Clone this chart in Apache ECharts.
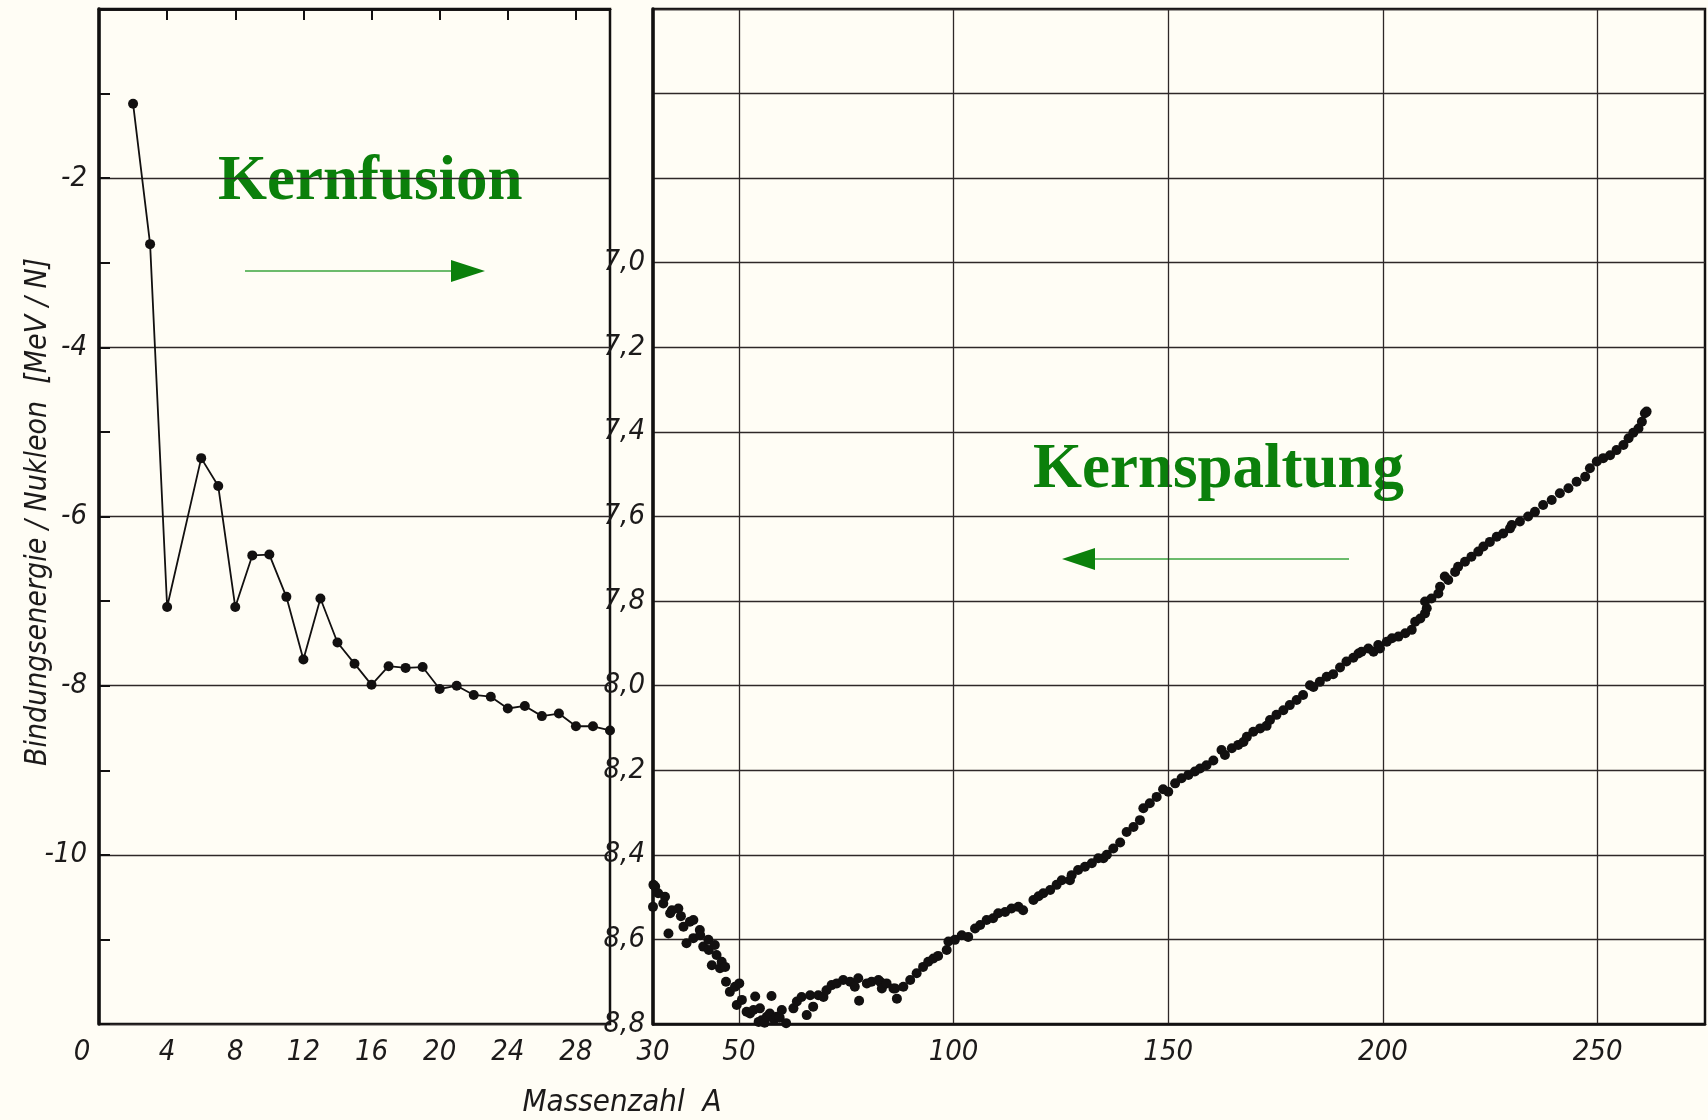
<!DOCTYPE html>
<html>
<head>
<meta charset="utf-8">
<title>Bindungsenergie je Nukleon</title>
<script src="https://cdn.jsdelivr.net/npm/echarts@6/dist/echarts.min.js"></script>
<style>
  html, body { margin: 0; padding: 0; background: #fffdf5; }
  #chart { width: 1708px; height: 1120px; }
</style>
</head>
<body>
<div id="chart"></div>
<script>
// Leichte Kerne (Kernfusion): Massenzahl A und Bindungsenergie je Nukleon, negativ aufgetragen
const leichteMassenzahl = [2, 3, 4, 6, 7, 8, 9, 10, 11, 12, 13, 14, 15, 16, 17, 18, 19, 20,
  21, 22, 23, 24, 25, 26, 27, 28, 29, 30];
const leichteEnergie = [-1.12, -2.78, -7.07, -5.31, -5.64, -7.07, -6.46, -6.45, -6.95, -7.69,
  -6.97, -7.49, -7.74, -7.99, -7.77, -7.79, -7.78, -8.04, -8.00, -8.11, -8.13, -8.27, -8.24,
  -8.36, -8.33, -8.48, -8.48, -8.53];

// Schwere Kerne (Kernspaltung): [Massenzahl A, Bindungsenergie je Nukleon in MeV]
const schwereKerne = [
  [30.0, 8.523], [30.1, 8.471], [30.5, 8.475], [31.2, 8.491], [32.4, 8.515], [32.8, 8.499],
  [33.6, 8.586], [34.0, 8.538], [34.4, 8.531], [35.9, 8.527], [36.5, 8.545], [37.1, 8.570],
  [37.8, 8.609], [38.6, 8.558], [39.4, 8.554], [39.4, 8.597], [40.9, 8.578], [41.0, 8.590],
  [41.7, 8.617], [42.9, 8.601], [43.0, 8.625], [43.7, 8.661], [44.4, 8.613], [44.8, 8.637],
  [45.6, 8.668], [46.0, 8.653], [46.8, 8.665], [47.0, 8.700], [47.9, 8.724], [49.1, 8.712],
  [49.5, 8.755], [50.1, 8.704], [50.7, 8.743], [51.8, 8.771], [52.6, 8.775], [53.4, 8.767],
  [53.8, 8.735], [54.6, 8.795], [54.9, 8.763], [55.3, 8.791], [56.0, 8.797], [56.5, 8.783],
  [57.2, 8.775], [57.6, 8.734], [58.2, 8.790], [58.8, 8.783], [59.5, 8.785], [60.0, 8.767],
  [61.0, 8.798], [62.7, 8.763], [63.5, 8.747], [64.6, 8.736], [65.8, 8.779], [66.6, 8.732],
  [67.3, 8.759], [68.5, 8.732], [69.7, 8.736], [70.4, 8.720], [71.6, 8.708], [72.8, 8.704],
  [74.3, 8.696], [75.9, 8.700], [77.0, 8.712], [77.8, 8.692], [78.0, 8.745], [79.8, 8.704],
  [80.9, 8.700], [82.5, 8.696], [82.9, 8.700], [83.3, 8.716], [84.4, 8.704], [86.0, 8.716],
  [86.4, 8.716], [86.8, 8.740], [88.3, 8.712], [89.9, 8.696], [91.4, 8.680], [92.9, 8.665],
  [94.1, 8.653], [95.3, 8.645], [96.4, 8.639], [98.4, 8.625], [98.8, 8.605], [100.3, 8.601],
  [101.9, 8.590], [103.4, 8.594], [105.0, 8.574], [106.2, 8.566], [107.7, 8.554], [109.2, 8.550],
  [110.4, 8.538], [112.0, 8.535], [113.5, 8.527], [115.1, 8.523], [116.2, 8.531], [118.6, 8.507],
  [119.8, 8.498], [120.9, 8.491], [122.5, 8.483], [124.0, 8.471], [125.2, 8.460], [127.1, 8.460],
  [127.5, 8.448], [129.0, 8.436], [130.6, 8.428], [132.2, 8.420], [133.7, 8.408], [134.9, 8.408],
  [135.7, 8.400], [137.2, 8.385], [138.8, 8.371], [140.3, 8.346], [141.9, 8.334], [143.4, 8.318],
  [144.2, 8.290], [145.7, 8.278], [147.3, 8.263], [148.8, 8.245], [150.0, 8.251], [151.6, 8.231],
  [153.1, 8.219], [154.7, 8.211], [156.2, 8.203], [157.4, 8.196], [158.9, 8.188], [160.5, 8.177],
  [162.4, 8.152], [163.2, 8.164], [164.8, 8.148], [166.3, 8.140], [167.5, 8.133], [168.3, 8.121],
  [169.8, 8.109], [171.4, 8.101], [172.9, 8.095], [173.7, 8.081], [175.2, 8.069], [176.8, 8.058],
  [178.3, 8.046], [179.9, 8.034], [181.4, 8.022], [183.0, 7.999], [183.8, 8.003], [185.3, 7.991],
  [186.9, 7.979], [188.4, 7.973], [190.0, 7.957], [191.5, 7.943], [193.1, 7.934], [194.3, 7.924],
  [195.0, 7.920], [196.6, 7.912], [197.8, 7.920], [198.9, 7.904], [199.3, 7.912], [200.9, 7.896],
  [202.1, 7.888], [203.6, 7.884], [205.2, 7.876], [206.7, 7.868], [207.5, 7.849], [208.7, 7.841],
  [209.8, 7.829], [210.2, 7.817], [209.8, 7.801], [211.3, 7.794], [212.9, 7.782], [213.3, 7.766],
  [214.4, 7.742], [215.2, 7.750], [216.8, 7.731], [217.5, 7.719], [219.1, 7.707], [220.6, 7.695],
  [222.2, 7.683], [223.4, 7.671], [224.9, 7.660], [226.5, 7.648], [228.0, 7.640], [229.6, 7.628],
  [230.0, 7.620], [231.9, 7.612], [233.8, 7.600], [235.4, 7.589], [237.3, 7.573], [239.3, 7.561],
  [241.2, 7.545], [243.2, 7.533], [245.1, 7.518], [247.1, 7.506], [248.2, 7.486], [249.8, 7.470],
  [251.3, 7.462], [252.9, 7.455], [254.4, 7.443], [256.0, 7.431], [257.2, 7.415], [258.3, 7.402],
  [259.5, 7.392], [260.3, 7.376], [261.0, 7.356], [261.4, 7.352]
];

// Achsenbeschriftungen
const linksXTicks = [0, 4, 8, 12, 16, 20, 24, 28];
const linksXObenTicks = [4, 8, 12, 16, 20, 24, 28];
const linksYTicks = [-10, -8, -6, -4, -2];
const rechtsXTicks = [30, 50, 100, 150, 200, 250];
const rechtsXGitter = [50, 100, 150, 200, 250];
const rechtsYTicks = [7.0, 7.2, 7.4, 7.6, 7.8, 8.0, 8.2, 8.4, 8.6, 8.8];

const labelFont = '"Liberation Sans Narrow", "DejaVu Sans Condensed", "Liberation Sans", sans-serif';
const ink = '#121010';
const gridColor = '#2e2828';
const green = '#0b800b';

const labelStyle = {
  fontFamily: labelFont,
  fontStyle: 'italic',
  fontSize: 29,
  color: '#1c1a1a'
};

const chart = echarts.init(document.getElementById('chart'), null, { renderer: 'canvas' });

chart.setOption({
  backgroundColor: '#fffdf5',
  animation: false,
  grid: [
    { left: 99, top: 9, width: 511, height: 1015, show: true, borderColor: ink, borderWidth: 2.5, backgroundColor: 'transparent' },
    { left: 653, top: 9, width: 1052, height: 1015, show: true, borderColor: ink, borderWidth: 2.5, backgroundColor: 'transparent' }
  ],
  xAxis: [
    {
      gridIndex: 0, type: 'value', min: 0, max: 30, interval: 4, position: 'bottom',
      axisLine: { show: true, lineStyle: { color: ink, width: 2.5 } },
      axisTick: { show: false },
      splitLine: { show: false },
      axisLabel: Object.assign({}, labelStyle, {
        customValues: linksXTicks,
        margin: 14,
        formatter: v => (v === 0 ? '{z|0}' : String(v)),
        rich: { z: Object.assign({}, labelStyle, { padding: [0, 34, 0, 0] }) }
      })
    },
    {
      gridIndex: 0, type: 'value', min: 0, max: 30, interval: 4, position: 'top',
      axisLine: { show: true, lineStyle: { color: ink, width: 2.5 } },
      axisTick: { show: true, inside: true, length: 11, customValues: linksXObenTicks, lineStyle: { color: ink, width: 2 } },
      splitLine: { show: false },
      axisLabel: { show: false }
    },
    {
      gridIndex: 1, type: 'value', min: 30, max: 275, position: 'bottom',
      axisLine: { show: true, lineStyle: { color: ink, width: 2.5 } },
      axisTick: { show: false, customValues: rechtsXGitter },
      splitLine: { show: true, lineStyle: { color: gridColor, width: 1.3 } },
      axisLabel: Object.assign({}, labelStyle, { customValues: rechtsXTicks, margin: 14 })
    }
  ],
  yAxis: [
    {
      gridIndex: 0, type: 'value', min: -12, max: 0, interval: 2,
      axisLine: { show: true, lineStyle: { color: ink, width: 3.5 } },
      axisTick: { show: true, inside: true, length: 11, lineStyle: { color: ink, width: 2 } },
      minorTick: { show: true, splitNumber: 2, length: 11, lineStyle: { color: ink, width: 2 } },
      splitLine: { show: true, lineStyle: { color: gridColor, width: 1.3 } },
      axisLabel: Object.assign({}, labelStyle, { customValues: linksYTicks, margin: 12 })
    },
    {
      gridIndex: 1, type: 'value', min: 6.4, max: 8.8, interval: 0.2, inverse: true,
      axisLine: { show: true, lineStyle: { color: ink, width: 3.5 } },
      axisTick: { show: false },
      splitLine: { show: true, lineStyle: { color: gridColor, width: 1.3 } },
      axisLabel: Object.assign({}, labelStyle, {
        customValues: rechtsYTicks,
        margin: 8,
        formatter: v => v.toFixed(1).replace('.', ',')
      })
    }
  ],
  series: [
    {
      name: 'Kernfusion',
      type: 'line',
      xAxisIndex: 0,
      yAxisIndex: 0,
      data: leichteMassenzahl.map((a, i) => [a, leichteEnergie[i]]),
      symbol: 'circle',
      symbolSize: 10,
      showAllSymbol: true,
      clip: false,
      lineStyle: { color: ink, width: 1.8 },
      itemStyle: { color: ink, opacity: 1 }
    },
    {
      name: 'Kernspaltung',
      type: 'scatter',
      xAxisIndex: 2,
      yAxisIndex: 1,
      data: schwereKerne,
      symbol: 'circle',
      symbolSize: 10,
      clip: false,
      itemStyle: { color: ink, opacity: 1 }
    }
  ],
  graphic: [
    {
      type: 'text', x: 38, y: 512, rotation: Math.PI / 2,
      style: {
        text: 'Bindungsenergie / Nukleon  [MeV / N]',
        x: 0, y: 0, align: 'center', verticalAlign: 'middle',
        font: 'italic 30px ' + labelFont, fill: '#1c1a1a'
      }
    },
    {
      type: 'text',
      style: {
        text: 'Massenzahl  A', x: 622, y: 1103, align: 'center', verticalAlign: 'middle',
        font: 'italic 31px ' + labelFont, fill: '#1c1a1a'
      }
    },
    {
      type: 'text',
      style: {
        text: 'Kernfusion', x: 218, y: 183, align: 'left', verticalAlign: 'middle',
        font: 'bold 63px "Liberation Serif", "Times New Roman", serif', fill: green
      }
    },
    {
      type: 'text',
      style: {
        text: 'Kernspaltung', x: 1033, y: 471, align: 'left', verticalAlign: 'middle',
        font: 'bold 63px "Liberation Serif", "Times New Roman", serif', fill: green
      }
    },
    { type: 'line', shape: { x1: 245, y1: 271, x2: 453, y2: 271 }, style: { stroke: '#6cbb6c', lineWidth: 2 } },
    { type: 'polygon', shape: { points: [[451, 260], [485, 271], [451, 282]] }, style: { fill: green } },
    { type: 'line', shape: { x1: 1093, y1: 559, x2: 1349, y2: 559 }, style: { stroke: '#6cbb6c', lineWidth: 2 } },
    { type: 'polygon', shape: { points: [[1095, 548], [1062, 559], [1095, 570]] }, style: { fill: green } }
  ]
});
</script>
</body>
</html>
